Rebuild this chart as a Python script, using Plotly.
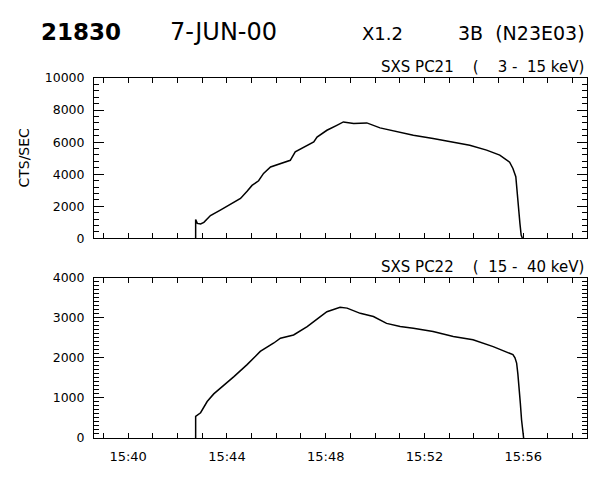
import plotly.graph_objects as go

DAY = "2000-06-07 "

# SXS PC21 (3 - 15 keV), counts/sec
t_pc21 = ["15:42:44", "15:42:44", "15:42:48", "15:42:56", "15:43:04", "15:43:20", "15:43:44",
          "15:44:09", "15:44:33", "15:44:49", "15:45:01", "15:45:17", "15:45:29", "15:45:46",
          "15:46:10", "15:46:34", "15:46:46", "15:47:06", "15:47:31", "15:47:39", "15:48:03",
          "15:48:27", "15:48:43", "15:49:08", "15:49:40", "15:50:12", "15:50:45", "15:51:33",
          "15:52:21", "15:53:10", "15:53:50", "15:54:31", "15:55:03", "15:55:27", "15:55:35",
          "15:55:42", "15:55:45", "15:55:48", "15:55:52", "15:55:55", "15:55:58"]
v_pc21 = [0, 1180, 934, 900, 1000, 1420, 1760,
          2130, 2490, 2940, 3300, 3590, 4050, 4450,
          4670, 4870, 5390, 5670, 6020, 6320, 6740,
          7050, 7260, 7160, 7200, 6890, 6700, 6430,
          6230, 6020, 5810, 5500, 5190, 4750, 4360,
          3840, 2800, 1760, 930, 200, 0]

# SXS PC22 (15 - 40 keV), counts/sec
t_pc22 = ["15:42:44", "15:42:44", "15:42:56", "15:43:04", "15:43:12", "15:43:28", "15:43:52",
          "15:44:17", "15:44:49", "15:45:21", "15:45:54", "15:46:10", "15:46:42", "15:47:15",
          "15:47:47", "15:48:03", "15:48:35", "15:48:52", "15:49:24", "15:49:56", "15:50:28",
          "15:51:01", "15:51:33", "15:52:21", "15:53:10", "15:53:58", "15:54:47", "15:55:35",
          "15:55:40", "15:55:44", "15:55:47", "15:55:50", "15:55:53", "15:55:56", "15:56:00",
          "15:56:01"]
v_pc22 = [0, 540, 630, 790, 910, 1100, 1300,
          1530, 1830, 2160, 2370, 2490, 2570, 2780,
          3030, 3150, 3260, 3240, 3110, 3030, 2860,
          2780, 2740, 2655, 2530, 2450, 2280, 2080,
          2000, 1870, 1600, 1285, 870, 450, 80,
          0]

x_range = ["15:38:37", "15:58:35"]
x_tick0 = "15:40:00"
y1_range = [0, 10000]
y2_range = [0, 4000]

FONT = "DejaVu Sans"
NB = "\u00a0"

fig = go.Figure()
fig.add_trace(go.Scatter(x=[DAY + t for t in t_pc21], y=v_pc21, mode="lines",
                         line=dict(color="black", width=1.5), xaxis="x", yaxis="y",
                         showlegend=False))
fig.add_trace(go.Scatter(x=[DAY + t for t in t_pc22], y=v_pc22, mode="lines",
                         line=dict(color="black", width=1.5), xaxis="x2", yaxis="y2",
                         showlegend=False))

def xax(show_labels, anchor):
    return dict(type="date", range=[DAY + x_range[0], DAY + x_range[1]],
                anchor=anchor, showgrid=False, zeroline=False, automargin=False,
                showline=True, linecolor="black", linewidth=1, mirror="allticks",
                ticks="inside", ticklen=5, tickwidth=1, tickcolor="black",
                tick0=DAY + x_tick0, dtick=240000, tickformat="%H:%M",
                showticklabels=show_labels, ticklabelstandoff=6,
                tickfont=dict(family=FONT, size=13, color="black"),
                minor=dict(dtick=60000, ticks="inside", ticklen=5, tickcolor="black",
                           showgrid=False))

def yax(rng, dtick, mdtick, domain, anchor):
    return dict(range=rng, domain=domain, anchor=anchor, showgrid=False, zeroline=False,
                automargin=False,
                showline=True, linecolor="black", linewidth=1, mirror="allticks",
                ticks="inside", ticklen=10, tickwidth=1, tickcolor="black",
                dtick=dtick, tick0=0, tickformat="d", ticklabelstandoff=6,
                tickfont=dict(family=FONT, size=12.5, color="black"),
                minor=dict(dtick=mdtick, ticks="inside", ticklen=5, tickcolor="black",
                           showgrid=False))

# page has an 8px body margin; margins compensate so the plot sits where the reference's does
fig.update_layout(
    width=600, height=480,
    margin=dict(l=85.5, r=20.7, t=69.7, b=49.7, autoexpand=False),
    paper_bgcolor="white", plot_bgcolor="white",
    xaxis=xax(False, "y"),
    yaxis=yax(y1_range, 2000, 400, [0.5546, 1.0], "x"),
    xaxis2=xax(True, "y2"),
    yaxis2=yax(y2_range, 1000, 100, [0.0, 0.4454], "x2"),
)

def ann(text, x, y, size, xanchor="left", angle=0):
    fig.add_annotation(text=text, x=x, y=y, xref="paper", yref="paper",
                       xanchor=xanchor, yanchor="middle", showarrow=False,
                       textangle=angle,
                       font=dict(family=FONT, size=size, color="black"))

def px(xp):
    return (xp - 93.5) / 494.0

ann("<b>21830</b>", px(80), 1.127, 23, xanchor="center")
ann("7-JUN-00", px(223), 1.127, 24, xanchor="center")
ann("X1.2", px(383), 1.125, 18, xanchor="center")
ann("3B" + NB * 2 + "(N23E03)", px(587), 1.125, 19, xanchor="right")
ann("SXS PC21" + NB * 4 + "(" + NB * 4 + "3" + NB + "-" + NB * 2 + "15 keV)",
    px(586), 1.031, 15, xanchor="right")
ann("SXS PC22" + NB * 4 + "(" + NB * 2 + "15" + NB + "-" + NB * 2 + "40 keV)",
    px(586), 0.476, 15, xanchor="right")
ann("CTS/SEC", px(23), 0.778, 14, xanchor="center", angle=-90)

fig.write_html("out.html")
